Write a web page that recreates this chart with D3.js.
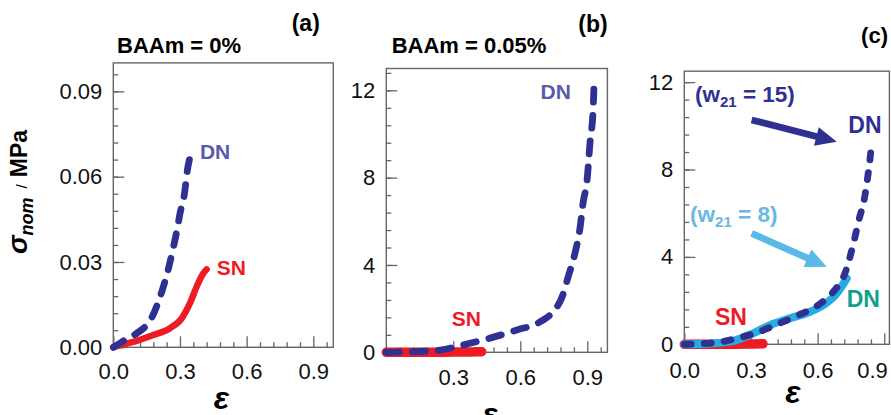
<!DOCTYPE html>
<html>
<head>
<meta charset="utf-8">
<script src="https://cdn.jsdelivr.net/npm/d3@7"></script>
<style>
  body { margin: 0; background: #fff; }
  svg { display: block; }
  text { font-family: "Liberation Sans", Arial, sans-serif; }
</style>
</head>
<body>
<svg id="chart"></svg>
<script>
// panel (a): BAAm = 0%
const strainA_DN = [0, 0.066, 0.107, 0.174, 0.22, 0.246, 0.264, 0.286, 0.3, 0.322, 0.331, 0.349];
const stressA_DN = [0, 0.0032, 0.005, 0.0106, 0.02, 0.027, 0.033, 0.041, 0.047, 0.055, 0.061, 0.068];
const strainA_SN = [0, 0.05, 0.09, 0.18, 0.255, 0.308, 0.345, 0.375, 0.405, 0.42];
const stressA_SN = [0, 0.0011, 0.0019, 0.0043, 0.0067, 0.0102, 0.0155, 0.0213, 0.026, 0.0274];

// panel (b): BAAm = 0.05%
const strainB_DN = [0, 0.1, 0.24, 0.343, 0.464, 0.585, 0.688, 0.746, 0.787, 0.814, 0.845, 0.868, 0.881, 0.899, 0.912, 0.926, 0.93];
const stressB_DN = [0, 0.02, 0.1, 0.33, 0.65, 1.02, 1.39, 1.85, 2.53, 3.45, 4.55, 5.74, 6.84, 7.89, 9.59, 11.1, 12.25];
const strainB_SN = [0, 0.1, 0.2, 0.3, 0.38, 0.427];
const stressB_SN = [0, 0.002, 0.005, 0.01, 0.018, 0.027];

// panel (c): w21 = 15 (dashed) and w21 = 8 (solid)
const strainC_DN15 = [0, 0.08, 0.16, 0.235, 0.318, 0.405, 0.506, 0.603, 0.67, 0.723, 0.756, 0.786, 0.811, 0.826, 0.837, 0.844];
const stressC_DN15 = [0, 0.03, 0.1, 0.27, 0.5, 0.86, 1.3, 1.8, 2.4, 3.25, 4.4, 5.7, 6.7, 7.7, 8.6, 9.3];
const strainC_DN8 = [0, 0.1, 0.206, 0.31, 0.386, 0.476, 0.566, 0.626, 0.686, 0.731];
const stressC_DN8 = [0, 0.03, 0.12, 0.5, 0.88, 1.19, 1.49, 1.8, 2.33, 3.02];
const strainC_SN = [0, 0.1, 0.2, 0.3, 0.354];
const stressC_SN = [0, 0.002, 0.006, 0.012, 0.02];

// tick labels
const ticksXA = [0, 0.3, 0.6, 0.9];
const ticksYA = [0, 0.03, 0.06, 0.09];
const ticksXB = [0.3, 0.6, 0.9];
const ticksYB = [0, 4, 8, 12];
const ticksXC = [0, 0.3, 0.6, 0.9];
const ticksYC = [0, 4, 8, 12];

const navy = "#2e3192";
const red = "#ed1c24";
const sky = "#29abe2";

const svg = d3.select("#chart").attr("width", 891).attr("height", 415);

const zip = (xs, ys) => xs.map((d, i) => [d, ys[i]]);

function panel(o) {
  const x = d3.scaleLinear().domain([0, o.xMax]).range([o.left, o.right]);
  const y = d3.scaleLinear().domain([0, o.yMax]).range([o.bottom, o.top]);
  const g = svg.append("g");

  const minorX = d3.range(0, o.xMax, 0.06).filter((v) => !o.xTicks.some((t) => Math.abs(t - v) < 1e-6));
  const minorY = d3.range(0, o.yMax, o.yMinor);

  const gx = g.append("g").attr("transform", `translate(0,${o.bottom})`);
  gx.append("g").call(d3.axisBottom(x).tickValues(minorX).tickSize(-5).tickFormat(""));
  gx.append("g").call(d3.axisBottom(x).tickValues(o.xTicks).tickSize(-11).tickPadding(o.xPad).tickFormat(d3.format(".1f")));

  const gy = g.append("g").attr("transform", `translate(${o.left},0)`);
  gy.append("g").call(d3.axisLeft(y).tickValues(minorY).tickSize(-5).tickFormat(""));
  gy.append("g").call(d3.axisLeft(y).tickValues(o.yTicks).tickSize(-11).tickPadding(11).tickFormat(o.yFmt));

  g.selectAll(".domain").remove();
  g.selectAll(".tick line").attr("stroke", "#666").attr("stroke-width", 1.3);
  g.selectAll(".tick text").attr("font-size", 22).attr("fill", "#111")
    .attr("font-family", '"Liberation Sans", Arial, sans-serif');

  g.append("rect")
    .attr("x", o.left).attr("y", o.top)
    .attr("width", o.right - o.left).attr("height", o.bottom - o.top)
    .attr("fill", "none").attr("stroke", "#666").attr("stroke-width", 1.4);

  g.append("text")
    .attr("x", (o.left + o.right) / 2 + o.epsDx).attr("y", o.epsY)
    .attr("text-anchor", "middle")
    .attr("font-family", '"Liberation Serif", serif')
    .attr("font-weight", "bold").attr("font-style", "italic")
    .attr("font-size", 32).text("ε");

  return { g, x, y, gx };
}

function curve(p, pts, color, width, dash) {
  const line = d3.line().x((d) => p.x(d[0])).y((d) => p.y(d[1])).curve(d3.curveMonotoneX);
  p.g.append("path")
    .attr("d", line(pts))
    .attr("fill", "none")
    .attr("stroke", color)
    .attr("stroke-width", width)
    .attr("stroke-linecap", "round")
    .attr("stroke-linejoin", "round")
    .attr("stroke-dasharray", dash || null);
}

function label(p, xv, yv, txt, color, size, family) {
  return p.g.append("text")
    .attr("x", p.x(xv)).attr("y", p.y(yv))
    .attr("font-family", family || '"Liberation Sans", Arial, sans-serif')
    .attr("font-weight", "bold").attr("font-size", size)
    .attr("fill", color).text(txt);
}

function arrow(p, x0, y0, x1, y1, color) {
  const ax = p.x(x0), ay = p.y(y0), bx = p.x(x1), by = p.y(y1);
  const len = Math.hypot(bx - ax, by - ay);
  const ux = (bx - ax) / len, uy = (by - ay) / len;
  const nx = -uy, ny = ux;
  const hl = 21, hw = 9.5, sw = 3.4;
  const cx = bx - ux * hl, cy = by - uy * hl;
  const pts = [
    [ax + nx * sw, ay + ny * sw],
    [cx + nx * sw, cy + ny * sw],
    [cx + nx * hw, cy + ny * hw],
    [bx, by],
    [cx - nx * hw, cy - ny * hw],
    [cx - nx * sw, cy - ny * sw],
    [ax - nx * sw, ay - ny * sw],
  ];
  p.g.append("polygon").attr("points", pts.map((d) => d.join(",")).join(" ")).attr("fill", color);
}

// ----- panel (a)
const pa = panel({
  left: 113.3, right: 333.3, top: 62.9, bottom: 347.3, xMax: 0.99, yMax: 0.1,
  xTicks: ticksXA, yTicks: ticksYA, yMinor: 0.006, yFmt: d3.format(".2f"),
  xPad: 16, epsY: 409, epsDx: -2,
});
curve(pa, zip(strainA_SN, stressA_SN), red, 6.5);
curve(pa, zip(strainA_DN, stressA_DN), navy, 6.8, "12 13");
label(pa, 0.39, 0.0662, "DN", "#5a5aaa", 21);
label(pa, 0.465, 0.0254, "SN", red, 21);

// ----- panel (b)
const pb = panel({
  left: 386.3, right: 607.4, top: 68.5, bottom: 352.3, xMax: 0.99, yMax: 13,
  xTicks: ticksXB, yTicks: ticksYB, yMinor: 0.8, yFmt: d3.format("d"),
  xPad: 17, epsY: 425, epsDx: -7,
});
curve(pb, zip(strainB_SN, stressB_SN), red, 9.5);
curve(pb, zip(strainB_DN, stressB_DN), navy, 6.8, "13 13");
label(pb, 0.691, 11.59, "DN", "#5a5aaa", 21);
label(pb, 0.293, 1.2, "SN", red, 21);

// ----- panel (c)
const pc = panel({
  left: 684.3, right: 889.4, top: 71.2, bottom: 344.3, xMax: 0.923, yMax: 12.5,
  xTicks: ticksXC, yTicks: ticksYC, yMinor: 0.8, yFmt: d3.format("d"),
  xPad: 18, epsY: 403, epsDx: 6,
});
// last x label is pulled inside the crop
pc.gx.selectAll(".tick text").filter((d) => d === 0.9).attr("text-anchor", "end").attr("dx", 3);
curve(pc, zip(strainC_SN, stressC_SN), red, 9.5);
curve(pc, zip(strainC_DN8, stressC_DN8), sky, 8);
curve(pc, zip(strainC_DN15, stressC_DN15), navy, 6.8, "7 13");
label(pc, 0.738, 9.66, "DN", navy, 23, "Lato, sans-serif");
label(pc, 0.731, 1.72, "DN", "#12a08a", 23, "Lato, sans-serif");
label(pc, 0.138, 0.88, "SN", red, 23, "Lato, sans-serif");

const w15 = label(pc, 0.048, 11.1, "", navy, 22.5, "Lato, sans-serif");
w15.append("tspan").text("(w");
w15.append("tspan").attr("font-size", 15).attr("dy", 5).text("21");
w15.append("tspan").attr("dy", -5).text(" = 15)");
const w8 = label(pc, 0.026, 5.61, "", "#6ab7e3", 22.5, "Lato, sans-serif");
w8.append("tspan").text("(w");
w8.append("tspan").attr("font-size", 15).attr("dy", 5).text("21");
w8.append("tspan").attr("dy", -5).text(" = 8)");

arrow(pc, 0.303, 10.27, 0.686, 9.27, navy);
arrow(pc, 0.303, 5.08, 0.641, 3.55, "#5ab9e6");

// ----- titles
svg.append("text").attr("x", 117).attr("y", 53).attr("font-weight", "bold").attr("font-size", 22).text("BAAm = 0%");
svg.append("text").attr("x", 391.7).attr("y", 53).attr("font-weight", "bold").attr("font-size", 22).text("BAAm = 0.05%");
svg.append("text").attr("x", 291.7).attr("y", 31).attr("font-family", "Lato, sans-serif").attr("font-weight", "bold").attr("font-size", 23).text("(a)");
svg.append("text").attr("x", 578.3).attr("y", 32).attr("font-family", "Lato, sans-serif").attr("font-weight", "bold").attr("font-size", 23).text("(b)");
svg.append("text").attr("x", 888).attr("y", 43).attr("text-anchor", "end").attr("font-family", "Lato, sans-serif").attr("font-weight", "bold").attr("font-size", 22).text("(c)");

// ----- y label
const yl = svg.append("text")
  .attr("transform", "translate(27,192) rotate(-90)")
  .attr("text-anchor", "middle")
  .attr("font-weight", "bold").attr("font-size", 23);
yl.append("tspan").attr("font-style", "italic").attr("font-size", 28).text("σ");
yl.append("tspan").attr("font-style", "italic").attr("font-size", 18).attr("dy", 6).text("nom");
yl.append("tspan").attr("font-weight", "normal").attr("font-size", 15).attr("dy", -6).attr("dx", 9).text("/");
yl.append("tspan").attr("dx", 7).text("MPa");
</script>
</body>
</html>
